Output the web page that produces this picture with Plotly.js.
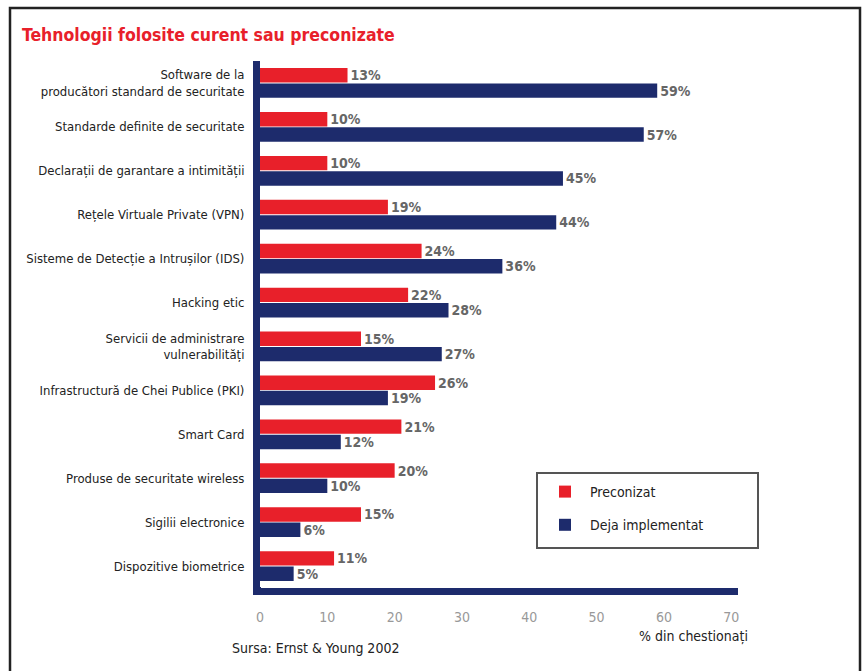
<!DOCTYPE html>
<html>
<head>
<meta charset="utf-8">
<script src="https://cdn.plot.ly/plotly-3.0.1.min.js"></script>
<style>html,body{margin:0;padding:0;background:#fff;}#chart{width:864px;height:671px;}</style>
</head>
<body>
<div id="chart"></div>
<script>
var categories = [
  "Software de la<br>producători standard de securitate",
  "Standarde definite de securitate",
  "Declarații de garantare a intimității",
  "Rețele Virtuale Private (VPN)",
  "Sisteme de Detecție a Intrușilor (IDS)",
  "Hacking etic",
  "Servicii de administrare<br>vulnerabilități",
  "Infrastructură de Chei Publice (PKI)",
  "Smart Card",
  "Produse de securitate wireless",
  "Sigilii electronice",
  "Dispozitive biometrice"
];
var preconizat = [13, 10, 10, 19, 24, 22, 15, 26, 21, 20, 15, 11];
var dejaImplementat = [59, 57, 45, 44, 36, 28, 27, 19, 12, 10, 6, 5];
var seriesNames = ["Preconizat", "Deja implementat"];
var xTicks = [0, 10, 20, 30, 40, 50, 60, 70];

var FONT = "'Liberation Sans Narrow', 'DejaVu Sans Condensed', 'Arial Narrow', sans-serif";
var RED = "#e8202a", NAVY = "#1d2b6c";

function pct(a){ return a.map(function(v){ return v + "%"; }); }

var traces = [
  {type:"bar", orientation:"h", name:seriesNames[0], y:categories, x:preconizat,
   text:pct(preconizat), textposition:"outside", constraintext:"none", cliponaxis:false,
   textfont:{family:FONT, size:14, color:"#666", weight:"bold"},
   marker:{color:RED}, legendgroup:"a", hoverinfo:"x+y"},
  {type:"bar", orientation:"h", name:seriesNames[1], y:categories, x:dejaImplementat,
   text:pct(dejaImplementat), textposition:"outside", constraintext:"none", cliponaxis:false,
   textfont:{family:FONT, size:14, color:"#666", weight:"bold"},
   marker:{color:NAVY}, legendgroup:"b", hoverinfo:"x+y"}
];

// plot area: x 260..738, y 61..588
var L = 260, R = 738, T = 61, B = 588, W = 864, H = 671;
function px(p){ return (p - L) / (R - L); }
function py(p){ return (B - p) / (B - T); }

var layout = {
  width: W, height: H,
  margin: {l: L, r: W - R, t: T, b: H - B},
  paper_bgcolor: "#ffffff", plot_bgcolor: "#ffffff",
  font: {family: FONT, size: 13, color: "#222"},
  barmode: "group", bargap: 0.3, bargroupgap: 0.06,
  showlegend: true,
  title: {text: "Tehnologii folosite curent sau preconizate", xref: "container", yref: "container",
          x: 22 / W, xanchor: "left", y: 1 - 35 / H, yanchor: "middle",
          font: {family: FONT, size: 17.5, color: RED, weight: "bold"}},
  xaxis: {range: [0, 71], tickvals: xTicks, ticktext: xTicks.map(String), showgrid: false, zeroline: false,
          showline: true, linecolor: NAVY, linewidth: 7, ticks: "", ticklabelstandoff: 10,
          tickfont: {family: FONT, size: 14, color: "#999"}, fixedrange: true},
  yaxis: {autorange: "reversed", showgrid: false, zeroline: false, showline: true,
          linecolor: NAVY, linewidth: 7, ticks: "", ticklabelstandoff: 6,
          tickfont: {family: FONT, size: 13, color: "#222"}, fixedrange: true},
  legend: {x: px(540), y: py(476), xanchor: "left", yanchor: "top", traceorder: "grouped",
           tracegroupgap: 12, bgcolor: "rgba(0,0,0,0)", borderwidth: 0,
           font: {family: FONT, size: 14, color: "#222"}, itemwidth: 40},
  shapes: [
    {type: "rect", xref: "paper", yref: "paper", x0: px(10), x1: px(860), y0: py(675), y1: py(8),
     line: {color: "#222", width: 2.5}, fillcolor: "rgba(0,0,0,0)", layer: "below"},
    {type: "rect", xref: "paper", yref: "paper", x0: px(537), x1: px(758), y0: py(548), y1: py(473),
     line: {color: "#555", width: 2}, fillcolor: "#ffffff", layer: "below"},
    {type: "rect", xref: "paper", yref: "paper", x0: px(253), x1: px(261), y0: py(595), y1: py(587),
     line: {width: 0}, fillcolor: NAVY}
  ],
  annotations: [
    {text: "% din chestionați", xref: "paper", yref: "paper", x: px(750), y: py(636),
     xanchor: "right", yanchor: "middle", showarrow: false, font: {family: FONT, size: 14, color: "#222"}},
    {text: "Sursa: Ernst & Young 2002", xref: "paper", yref: "paper", x: px(230), y: py(648),
     xanchor: "left", yanchor: "middle", showarrow: false, font: {family: FONT, size: 14, color: "#222"}}
  ]
};

Plotly.newPlot("chart", traces, layout, {displayModeBar: false, staticPlot: true});
</script>
</body>
</html>
